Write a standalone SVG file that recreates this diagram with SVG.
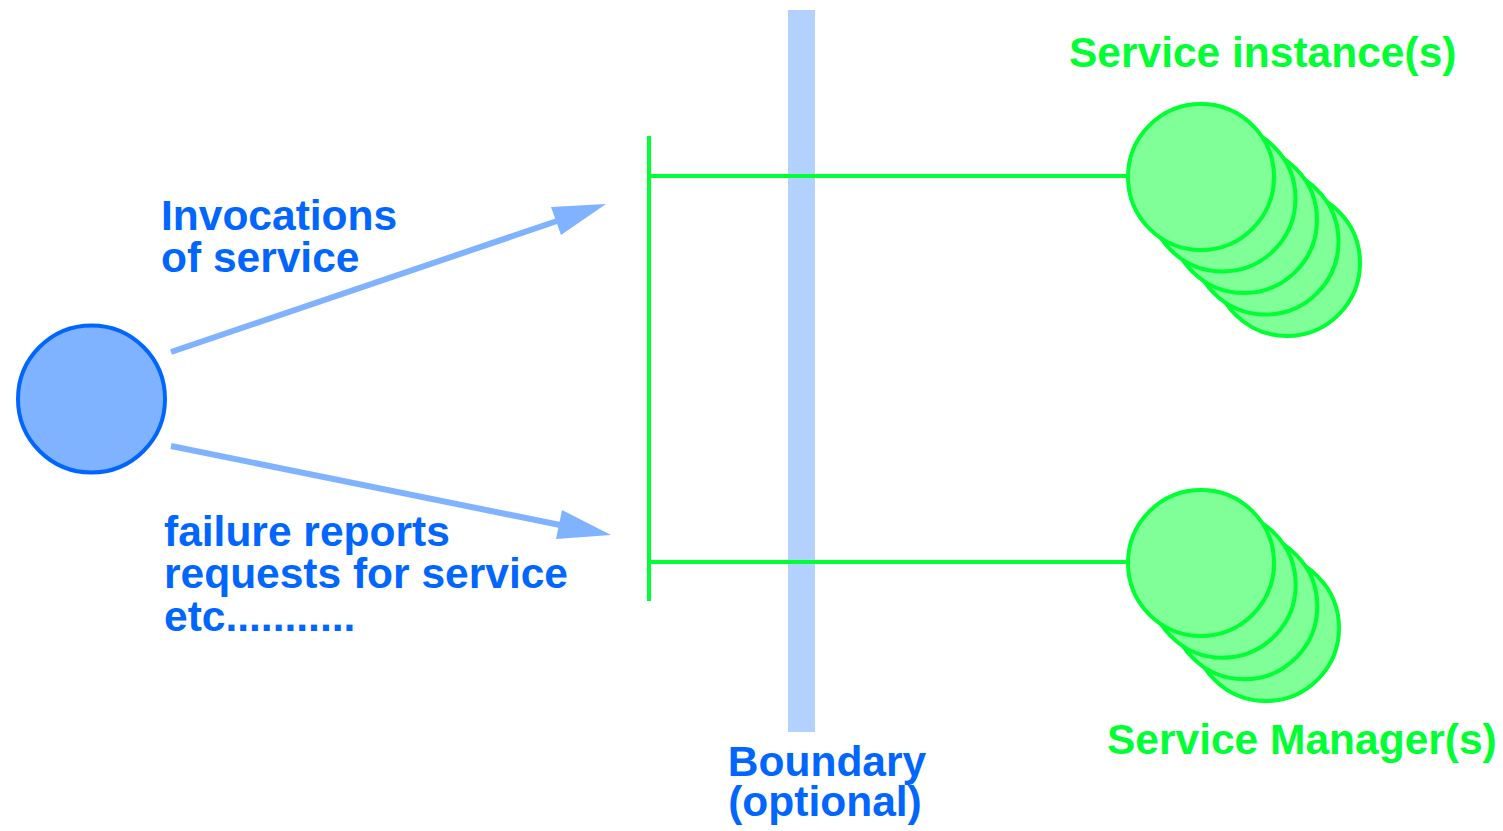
<svg xmlns="http://www.w3.org/2000/svg" width="1503" height="831" viewBox="0 0 1503 831">
<style>
text { font-family: "Liberation Sans", Arial, sans-serif; font-weight: bold; font-size: 42.5px; }
.blue { fill: #0066ff; }
.green { fill: #00ff33; }
.gc { fill: #80ff99; stroke: #00ff33; stroke-width: 4; }
.gl { stroke: #00ff33; stroke-width: 4; fill: none; }
.arr { stroke: #80b3ff; stroke-width: 6; fill: none; }
.head { fill: #80b3ff; }
</style>
<rect id="boundary" x="788" y="10" width="27" height="722" fill="#b3d1ff"/>
<g id="connectors">
  <line class="gl" x1="649" y1="136" x2="649" y2="601"/>
  <line class="gl" x1="649" y1="176" x2="1128" y2="176"/>
  <line class="gl" x1="649" y1="562" x2="1128" y2="562"/>
  <line class="arr" x1="171" y1="352" x2="560" y2="220"/>
  <polygon class="head" points="606,204 551,207 561,235"/>
  <line class="arr" x1="171" y1="446" x2="565" y2="526"/>
  <polygon class="head" points="611,535 562,510 556,539"/>
</g>
<g id="client">
  <circle cx="91.5" cy="399" r="73.5" fill="#80b3ff" stroke="#0066ff" stroke-width="4"/>
</g>
<g id="service-instances">
  <circle class="gc" cx="1287" cy="263" r="73"/>
  <circle class="gc" cx="1265.5" cy="241.5" r="73"/>
  <circle class="gc" cx="1244" cy="220" r="73"/>
  <circle class="gc" cx="1222.5" cy="198.5" r="73"/>
  <circle class="gc" cx="1201" cy="177" r="73"/>
</g>
<g id="service-managers">
  <circle class="gc" cx="1266" cy="628" r="73"/>
  <circle class="gc" cx="1244.3" cy="606.3" r="73"/>
  <circle class="gc" cx="1222.7" cy="584.7" r="73"/>
  <circle class="gc" cx="1201" cy="563" r="73"/>
</g>
<g id="labels">
  <text class="blue" x="161" y="230">Invocations</text>
  <text class="blue" x="161" y="272">of service</text>
  <text class="blue" x="164" y="546">failure reports</text>
  <text class="blue" x="164" y="588">requests for service</text>
  <text class="blue" x="164" y="631">etc...........</text>
  <text class="blue" x="827" y="776" text-anchor="middle">Boundary</text>
  <text class="blue" x="825" y="816" text-anchor="middle">(optional)</text>
  <text class="green" x="1069" y="67">Service instance(s)</text>
  <text class="green" x="1107" y="754">Service Manager(s)</text>
</g>
</svg>
